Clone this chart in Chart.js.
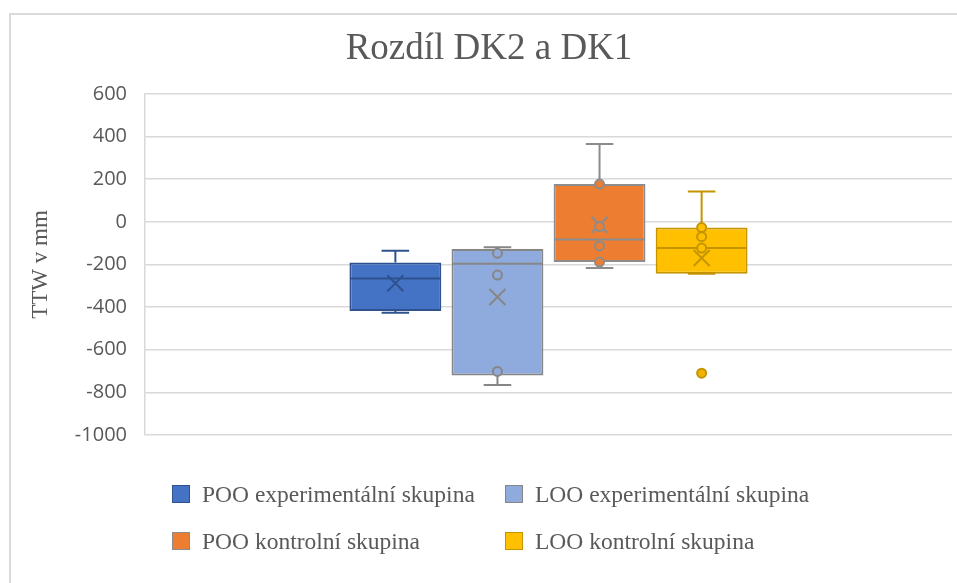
<!DOCTYPE html>
<html>
<head>
<meta charset="utf-8">
<script src="https://cdn.jsdelivr.net/npm/chart.js@4"></script>
<style>
  html, body { margin: 0; padding: 0; background: #fff; overflow: hidden; }
  #wrap { position: relative; width: 957px; height: 583px; }
  #frame { position: absolute; left: 9px; top: 13px; width: 960px; height: 600px; border: 2px solid #d9d9d9; box-sizing: border-box; }
  canvas { position: absolute; left: 0; top: 0; }
  .leg { position: absolute; font-family: 'Liberation Serif', serif; font-size: 23.5px; color: #595959; white-space: nowrap; line-height: 19px; }
  .leg span { display: inline-block; width: 16px; height: 16px; border: 1.5px solid; vertical-align: top; margin-right: 12px; }
</style>
</head>
<body>
<div id="wrap">
  <div id="frame"></div>
  <canvas id="grafBox" width="957" height="583"></canvas>
  <div id="legenda"></div>
</div>
<script>
// skupiny
const skupiny = ['POO experimentální skupina', 'LOO experimentální skupina', 'POO kontrolní skupina', 'LOO kontrolní skupina'];
// krabicové statistiky (TTW v mm)
const minima = [-426, -765, -217, -244];
const kvartil1 = [-418, -721, -189, -244];
const mediany = [-266, -197, -83, -123];
const kvartil3 = [-191, -127, 177, -27];
const maxima = [-136, -119, 365, 142];
const prumery = [-288, -353, -14, -170];
const vnitrniBody = [[], [-147, -250, -702], [177, -22, -113, -189], [-27, -70, -123]];
const odlehle = [[], [], [], [-710]];
const osaY = [-1000, -800, -600, -400, -200, 0, 200, 400, 600];

const vyplne = ['#4472C4', '#8FAADC', '#ED7D31', '#FFC000'];
const obrysy = ['#2F528F', '#868686', '#8C8C8C', '#C49500'];

// vlastní kreslení vousů, mediánu, průměru a bodů
const krabicePlugin = {
    id: 'krabice',
    afterDatasetsDraw(chart) {
        const ctx = chart.ctx;
        const y = chart.scales.y;
        chart.data.datasets.forEach((ds, i) => {
            const bar = chart.getDatasetMeta(i).data[0];
            const x = bar.x, w = bar.width;
            const cap = w * 0.3;
            ctx.save();
            ctx.strokeStyle = obrysy[i];
            ctx.lineWidth = 2;
            // vousy
            ctx.beginPath();
            ctx.moveTo(x, y.getPixelForValue(kvartil3[i]));
            ctx.lineTo(x, y.getPixelForValue(maxima[i]));
            ctx.moveTo(x - cap / 2, y.getPixelForValue(maxima[i]));
            ctx.lineTo(x + cap / 2, y.getPixelForValue(maxima[i]));
            ctx.moveTo(x, y.getPixelForValue(kvartil1[i]));
            ctx.lineTo(x, y.getPixelForValue(minima[i]));
            ctx.moveTo(x - cap / 2, y.getPixelForValue(minima[i]));
            ctx.lineTo(x + cap / 2, y.getPixelForValue(minima[i]));
            // medián
            ctx.moveTo(x - w / 2 + 1, y.getPixelForValue(mediany[i]));
            ctx.lineTo(x + w / 2 - 1, y.getPixelForValue(mediany[i]));
            ctx.stroke();
            // průměr (X)
            const my = y.getPixelForValue(prumery[i]);
            const s = 8;
            ctx.beginPath();
            ctx.moveTo(x - s, my - s); ctx.lineTo(x + s, my + s);
            ctx.moveTo(x + s, my - s); ctx.lineTo(x - s, my + s);
            ctx.stroke();
            // vnitřní body
            ctx.fillStyle = vyplne[i];
            vnitrniBody[i].forEach(v => {
                ctx.beginPath();
                ctx.arc(x, y.getPixelForValue(v), 4.5, 0, Math.PI * 2);
                ctx.fill();
                ctx.stroke();
            });
            // odlehlé body
            odlehle[i].forEach(v => {
                ctx.beginPath();
                ctx.arc(x, y.getPixelForValue(v), 4.5, 0, Math.PI * 2);
                ctx.fillStyle = '#F2B200';
                ctx.fill();
                ctx.stroke();
            });
            ctx.restore();
        });
    }
};

const ctx = document.getElementById('grafBox').getContext('2d');

new Chart(ctx, {
    type: 'bar',
    data: {
        labels: [''],
        datasets: skupiny.map((nazev, i) => ({
            label: nazev,
            data: [[kvartil1[i], kvartil3[i]]],
            backgroundColor: vyplne[i],
            borderColor: obrysy[i],
            borderWidth: 2,
            borderSkipped: false,
            categoryPercentage: 0.506,
            barPercentage: 0.9
        }))
    },
    options: {
        responsive: false,
        animation: false,
        layout: {
            padding: { left: 26, right: 5, top: 0, bottom: 148 }
        },
        plugins: {
            title: {
                display: true,
                text: 'Rozdíl DK2 a DK1',
                color: '#595959',
                font: { family: 'Liberation Serif', size: 37, weight: 'normal' },
                padding: { top: 27, bottom: 22.5 }
            },
            legend: { display: false },
            tooltip: { enabled: false }
        },
        scales: {
            x: { display: false },
            y: {
                min: osaY[0],
                max: osaY[osaY.length - 1],
                afterFit(scale) { scale.width = 119; },
                afterBuildTicks(scale) { scale.ticks = osaY.map(v => ({ value: v })); },
                grid: { color: '#d9d9d9', lineWidth: 1.5, drawTicks: false },
                border: { display: true, color: '#d9d9d9', width: 1.5 },
                ticks: {
                    color: '#595959',
                    padding: 18,
                    font: { family: 'Open Sans', size: 20 },
                    callback: v => String(v)
                },
                title: {
                    display: true,
                    text: 'TTW v mm',
                    color: '#595959',
                    font: { family: 'Liberation Serif', size: 23, weight: 'normal' },
                    padding: { top: 1, bottom: 0 }
                }
            }
        }
    },
    plugins: [krabicePlugin]
});

// legenda ve dvou sloupcích
const legenda = document.getElementById('legenda');
const pozice = [[172, 485], [505, 485], [172, 532], [505, 532]];
skupiny.forEach((nazev, i) => {
    const d = document.createElement('div');
    d.className = 'leg';
    d.style.left = pozice[i][0] + 'px';
    d.style.top = pozice[i][1] + 'px';
    d.innerHTML = '<span style="background:' + vyplne[i] + ';border-color:' + obrysy[i] + '"></span>' + nazev;
    legenda.appendChild(d);
});
</script>
</body>
</html>
